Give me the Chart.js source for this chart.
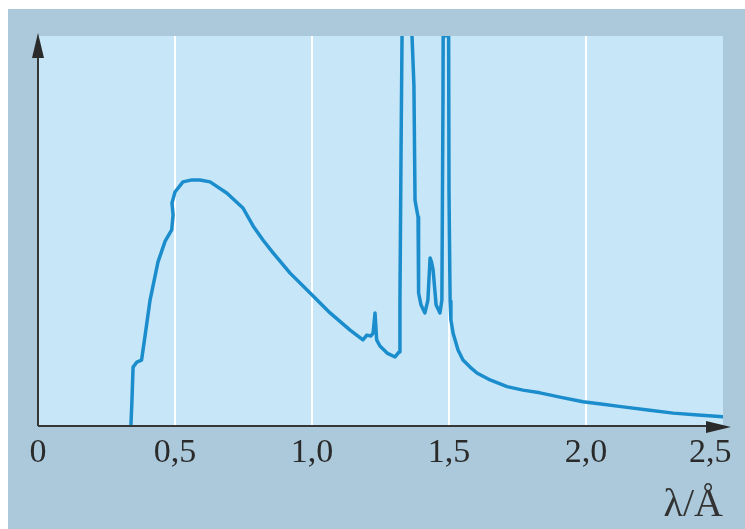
<!DOCTYPE html>
<html>
<head>
<meta charset="utf-8">
<script src="https://cdn.jsdelivr.net/npm/chart.js@4"></script>
<style>
  html, body { margin: 0; padding: 0; background: #ffffff; }
  #wrap { width: 745px; height: 529px; }
</style>
</head>
<body>
<div id="wrap"><canvas id="c" width="745" height="529"></canvas></div>
<script>
// Wavelength λ (Å) and relative intensity of the X-ray spectrum
const lambda = [0.339, 0.343, 0.347, 0.361, 0.378, 0.391, 0.409, 0.438, 0.464, 0.488, 0.493, 0.489, 0.500, 0.529, 0.562, 0.591, 0.628, 0.690, 0.748, 0.785, 0.821, 0.858, 0.920, 0.993, 1.066, 1.139, 1.186, 1.200, 1.215, 1.223, 1.230, 1.236, 1.248, 1.274, 1.303, 1.318, 1.321, 1.325, 1.336, 1.354, 1.365, 1.372, 1.376, 1.387, 1.389, 1.398, 1.412, 1.423, 1.431, 1.436, 1.442, 1.453, 1.467, 1.474, 1.478, 1.481, 1.485, 1.489, 1.493, 1.497, 1.500, 1.504, 1.507, 1.515, 1.533, 1.551, 1.577, 1.602, 1.650, 1.712, 1.770, 1.832, 1.905, 1.989, 2.062, 2.135, 2.226, 2.318, 2.409, 2.500];
const intensity = [0, 6.7, 15.1, 16.4, 16.9, 23.3, 32.3, 42.1, 47.4, 50.3, 54.1, 57.2, 60.0, 62.6, 63.1, 63.1, 62.6, 59.7, 55.9, 51.3, 47.7, 44.4, 39.2, 34.1, 29.0, 24.6, 22.1, 23.3, 23.1, 23.8, 29.0, 22.1, 20.5, 18.7, 17.7, 19.0, 32.3, 70.8, 160, 135, 100, 87.4, 57.9, 53.6, 34.1, 31.0, 29.0, 32.3, 43.1, 42.1, 40.0, 31.0, 29.0, 32.3, 83.6, 150, 100, 150, 100, 150, 60, 32, 27.2, 23.8, 19.5, 16.9, 15.1, 13.6, 11.8, 10.1, 9.2, 8.5, 7.4, 6.2, 5.6, 4.9, 4.1, 3.3, 2.8, 2.4];
const tickLabels = ['0', '0,5', '1,0', '1,5', '2,0', '2,5   '];
const axisTitle = 'λ/Å';

const points = lambda.map((x, i) => ({ x: x, y: intensity[i] }));

const bgPlugin = {
  id: 'bg',
  beforeDraw(chart) {
    const ctx = chart.ctx;
    const a = chart.chartArea;
    ctx.save();
    ctx.fillStyle = '#ffffff';
    ctx.fillRect(0, 0, chart.width, chart.height);
    ctx.fillStyle = '#abc9da';
    ctx.fillRect(8, 9, chart.width - 8, chart.height - 9);
    ctx.fillStyle = '#c7e7f8';
    ctx.fillRect(a.left, a.top, a.right - a.left, a.bottom - a.top);
    ctx.restore();
  },
  afterDraw(chart) {
    const ctx = chart.ctx;
    const a = chart.chartArea;
    ctx.save();
    ctx.strokeStyle = '#363636';
    ctx.fillStyle = '#2a2a2a';
    ctx.lineWidth = 2;
    // y axis
    ctx.beginPath();
    ctx.moveTo(a.left, a.bottom);
    ctx.lineTo(a.left, a.top + 10);
    ctx.stroke();
    ctx.beginPath();
    ctx.moveTo(a.left, a.top - 3);
    ctx.lineTo(a.left - 6, a.top + 22);
    ctx.lineTo(a.left + 6, a.top + 22);
    ctx.closePath();
    ctx.fill();
    // x axis
    ctx.beginPath();
    ctx.moveTo(a.left, a.bottom);
    ctx.lineTo(a.right - 5, a.bottom);
    ctx.stroke();
    ctx.beginPath();
    ctx.moveTo(a.right + 8, a.bottom + 1);
    ctx.lineTo(a.right - 17, a.bottom - 5);
    ctx.lineTo(a.right - 17, a.bottom + 7);
    ctx.closePath();
    ctx.fill();
    ctx.restore();
  }
};

new Chart(document.getElementById('c'), {
  type: 'scatter',
  data: {
    datasets: [{
      data: points,
      showLine: true,
      borderColor: '#1b8dcc',
      backgroundColor: '#1b8dcc',
      borderWidth: 3.5,
      pointRadius: 0,
      tension: 0,
      borderJoinStyle: 'round',
      borderCapStyle: 'round'
    }]
  },
  options: {
    responsive: false,
    animation: false,
    devicePixelRatio: 1,
    layout: { padding: { left: 38, top: 36, right: 22, bottom: 0 } },
    plugins: { legend: { display: false }, tooltip: { enabled: false } },
    scales: {
      x: {
        type: 'linear',
        min: 0,
        max: 2.5,
        afterFit: (s) => { s.height = 103; s.paddingLeft = 0; s.paddingRight = 0; },
        border: { display: false },
        grid: {
          drawTicks: false,
          lineWidth: 2,
          color: (c) => (c.tick && c.tick.value > 0.01 && c.tick.value < 2.49) ? '#ffffff' : 'rgba(0,0,0,0)'
        },
        ticks: {
          stepSize: 0.5,
          padding: 7,
          maxRotation: 0,
          autoSkip: false,
          color: '#2a2a2a',
          font: { family: 'Liberation Serif', size: 34 },
          callback: (v, i) => tickLabels[i]
        },
        title: {
          display: true,
          text: axisTitle,
          align: 'end',
          color: '#333333',
          font: { family: 'Liberation Serif', size: 40 },
          padding: { top: 4, bottom: 0 }
        }
      },
      y: {
        display: false,
        min: 0,
        max: 100
      }
    }
  },
  plugins: [bgPlugin]
});
</script>
</body>
</html>
